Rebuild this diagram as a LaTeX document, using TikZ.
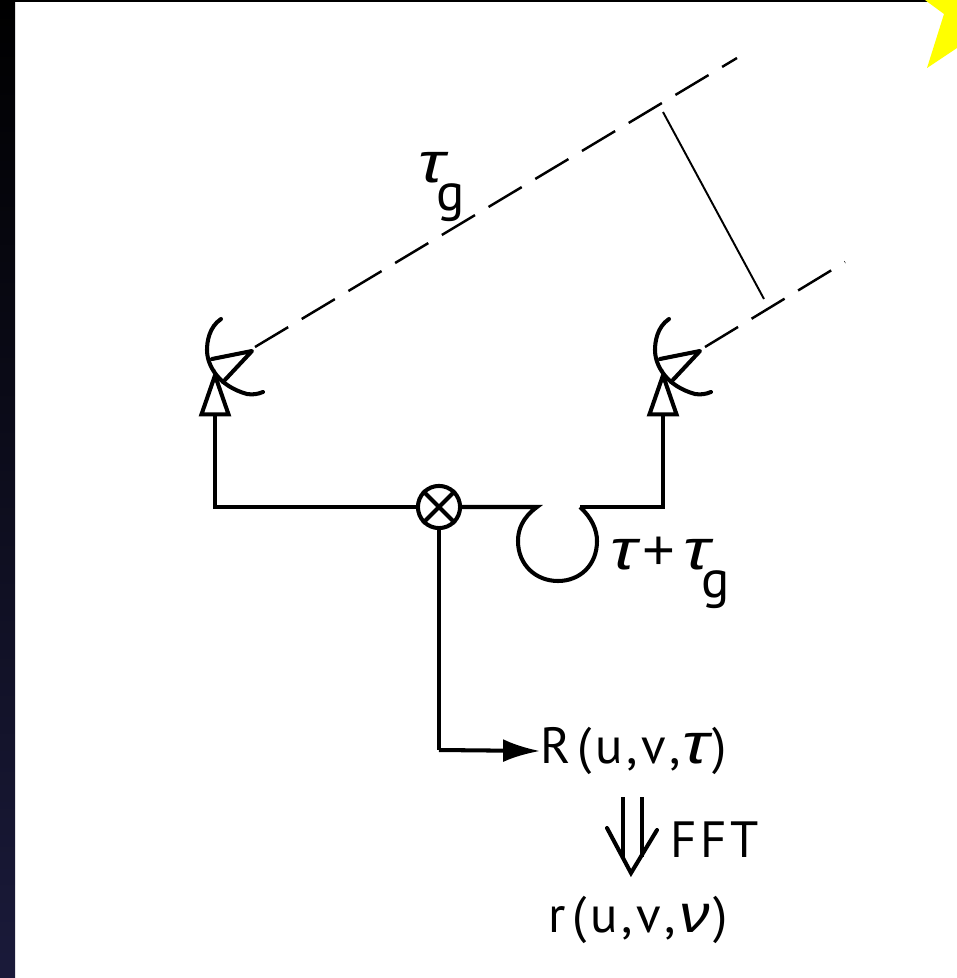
\documentclass[tikz,border=0pt]{standalone}
\usepackage{fontspec}
\setmainfont{PT Sans}
\newfontfamily\greekfont{Liberation Sans}
\usepackage{xcolor}
\definecolor{slidenavy}{RGB}{26,26,58}
\definecolor{starlemon}{RGB}{255,255,0}
\usetikzlibrary{positioning, arrows.meta}
\newcommand{\gsub}{\kern-5pt\raisebox{-0.55em}{\fontsize{30}{30}\selectfont g}}
\newcommand{\bigtau}{\scalebox{1.4}[1.12]{\greekfont\itshape τ}}
\newcommand{\bignu}{\scalebox{1.2}[1.05]{\greekfont\itshape ν}}
\begin{document}
\begin{tikzpicture}[
    x=0.02cm, y=-0.02cm,
    wire/.style={line width=2.3pt, line join=miter},
    feedarr/.style={wire, -{Triangle[open, length=27pt, width=18pt, line width=2.3pt]}},
    outarr/.style={wire, -{Latex[length=21pt, width=13pt]}},
    beam/.style={line width=1.4pt, dash pattern=on 22pt off 9pt},
    lbl/.style={font=\fontsize{29}{30}\selectfont, inner sep=0pt},
    pics/dish/.style={code={
      \draw[line width=2.3pt, line cap=round] (6,-51) .. controls (-6,-43) and (-8,-28) .. (-8,-20)
        .. controls (-8,-5) and (3,16) .. (32,24) .. controls (38,25) and (43,24) .. (48,22);
      \draw[line width=2.3pt, line join=round, line cap=round] (-3,-11) -- (37,-19) -- (8,12);
    }},
  ]
    \useasboundingbox (0,0) rectangle (957,978);

    % --- Slide background ---
    \fill[white] (0,0) rectangle (957,978);
    \fill[black] (0,0) rectangle (957,2);
    \shade[top color=black, middle color=black, bottom color=slidenavy] (0,0) rectangle (15,978);
    \fill[starlemon] (925,0) -- (944,14) -- (927,68) -- (957,48) -- (957,0) -- cycle;

    % --- Antennas ---
    \pic at (215,370) {dish};
    \pic at (663,370) {dish};
    \coordinate (lfoot) at (215,369);
    \coordinate (rfoot) at (663,369);

    % --- Mixer and delay loop ---
    \node[circle, draw, line width=2.3pt, inner sep=0pt, minimum size=24pt] (mix) at (439,507) {};
    \draw[line width=2.3pt] (mix.north west) -- (mix.south east) (mix.north east) -- (mix.south west);
    \coordinate (loopin)  at (537,507);
    \coordinate (loopout) at (580,507);

    % --- Labels ---
    \node[lbl, anchor=west] (taug) at (418,187) {\bigtau\gsub};
    \node[lbl, anchor=west] (delay) at (610,573) {\bigtau\kern3pt{\greekfont\fontsize{32}{34}\selectfont +}\kern5pt\bigtau\gsub};
    \node[lbl, anchor=west] (corr) at (540,751) {R\kern4pt(\kern2pt u\kern2pt,\kern2pt v\kern2pt,\kern1pt\bigtau\kern2pt)};
    \node[lbl, anchor=west] (fftlbl) at (670,840) {F\kern2pt F\kern2pt T};
    \node[lbl, anchor=west] (spec) at (548,920) {r\kern4pt(\kern2pt u\kern2pt,\kern2pt v\kern2pt,\kern2pt\bignu\kern2pt)};

    % --- Wires ---
    \draw[feedarr] (mix.west) -| (lfoot);
    \draw[wire] (mix.east) -- (loopin)
      .. controls (522,518) and (518,530) .. (518,541)
      .. controls (518,565) and (536,581) .. (558,581)
      .. controls (580,581) and (597,565) .. (597,541)
      .. controls (597,530) and (592,518) .. (loopout);
    \draw[feedarr] (loopout) -| (rfoot);
    \draw[wire, line width=1.9pt, -] (mix.south) -- (439,750) coordinate (bend);
    \draw[outarr] (bend) -- (corr.west);

    % --- FFT double arrow ---
    \coordinate (fftl) at (623,797);
    \coordinate (fftr) at (642,797);
    \coordinate (ffttip) at (631,873);
    \draw[line width=1.9pt] (fftl) -- (623,857) (fftr) -- (642,857);
    \draw[wire, line cap=round] (607,828) -- (ffttip) -- (657,830);

    % --- Wavefronts ---
    \coordinate (lbeam) at (255,347);
    \coordinate (lfar)  at (737,58);
    \coordinate (rbeam) at (705,347);
    \coordinate (rfar)  at (845,262);
    \draw[beam] (lbeam) -- (lfar);
    \draw[beam] (rbeam) -- (rfar);
    \coordinate (gaptop) at (663,112);
    \coordinate (gapbot) at (764,299);
    \draw[line width=1.1pt] (gaptop) -- (gapbot);
  \end{tikzpicture}
\end{document}
